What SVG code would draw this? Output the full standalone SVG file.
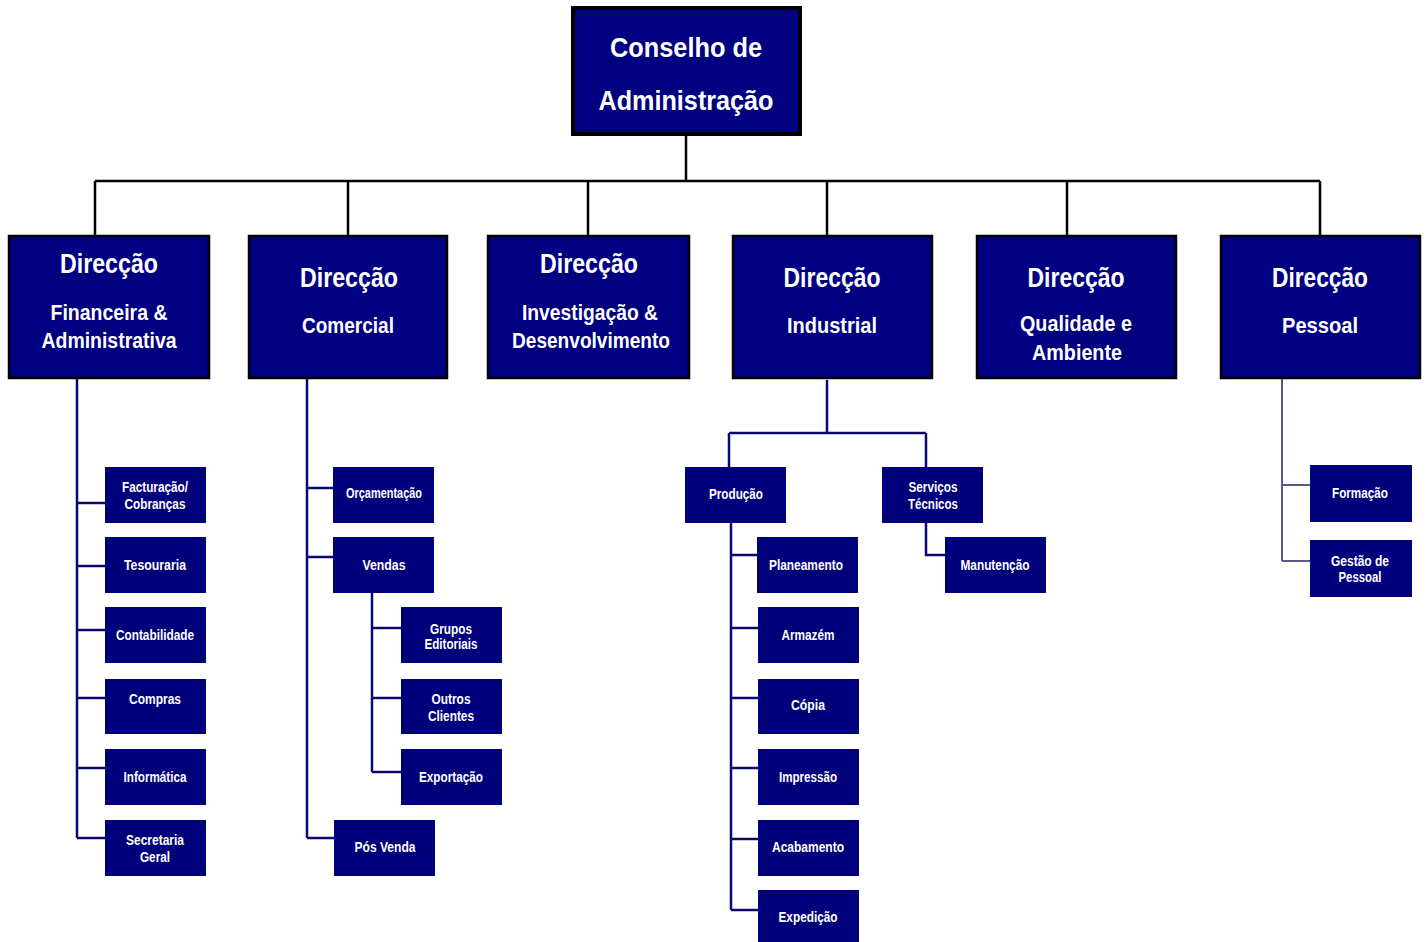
<svg xmlns="http://www.w3.org/2000/svg" width="1426" height="942" viewBox="0 0 1426 942">
<style>
.top{fill:#000080;stroke:#000;stroke-width:4}
.dir{fill:#000080;stroke:#000;stroke-width:2.5}
.sub{fill:#00007a}
.t{font-family:"Liberation Sans Narrow","Liberation Sans",Arial,sans-serif;font-weight:bold;fill:#fff;text-anchor:middle}
.big{font-size:28px}
.mid{font-size:22px}
.sm{font-size:14px}
.blk{stroke:#000;stroke-width:2.5;fill:none}
.nav{stroke:#0a0a6e;stroke-width:2.5;fill:none}
.gry{stroke:#5a5a8a;stroke-width:2;fill:none}
</style>
<rect width="1426" height="942" fill="#fff"/>
<g id="connectors">
<path class="blk" d="M686 136V181M95 181H1320M95 181V235M348 181V235M588 181V235M827 181V235M1067 181V235M1320 181V235"/>
<path class="nav" d="M77 378V838M77 503H105M77 566H105M77 630H105M77 698H105M77 768H105M77 838H105"/>
<path class="nav" d="M307 378V838M307 488H333M307 557H333M307 838H334M372 593V772M372 628H401M372 698H401M372 772H401"/>
<path class="nav" d="M827 380V433M729 433H926M729 433V467M926 433V467M926 523V555H945M731 523V910M731 555H757M731 628H758M731 698H758M731 768H758M731 839H758M731 910H758"/>
<path class="gry" d="M1282 378V561M1282 485H1310M1282 561H1310"/>
</g>
<g id="conselho">
<rect class="top" x="573" y="8" width="227" height="126"/>
<text class="t big" x="686" y="57" textLength="152" lengthAdjust="spacingAndGlyphs">Conselho de</text>
<text class="t big" x="686" y="110" textLength="175" lengthAdjust="spacingAndGlyphs">Administração</text>
</g>
<g id="dir-financeira">
<rect class="dir" x="9" y="236" width="200" height="142"/>
<text class="t big" x="109" y="273" textLength="98" lengthAdjust="spacingAndGlyphs">Direcção</text>
<text class="t mid" x="109" y="320" textLength="117" lengthAdjust="spacingAndGlyphs">Financeira &amp;</text>
<text class="t mid" x="109" y="348" textLength="135" lengthAdjust="spacingAndGlyphs">Administrativa</text>
</g>
<g id="dir-comercial">
<rect class="dir" x="249" y="236" width="198" height="142"/>
<text class="t big" x="349" y="287" textLength="98" lengthAdjust="spacingAndGlyphs">Direcção</text>
<text class="t mid" x="348" y="333" textLength="92" lengthAdjust="spacingAndGlyphs">Comercial</text>
</g>
<g id="dir-id">
<rect class="dir" x="488" y="236" width="201" height="142"/>
<text class="t big" x="589" y="273" textLength="98" lengthAdjust="spacingAndGlyphs">Direcção</text>
<text class="t mid" x="590" y="320" textLength="136" lengthAdjust="spacingAndGlyphs">Investigação &amp;</text>
<text class="t mid" x="591" y="348" textLength="158" lengthAdjust="spacingAndGlyphs">Desenvolvimento</text>
</g>
<g id="dir-industrial">
<rect class="dir" x="733" y="236" width="199" height="142"/>
<text class="t big" x="832" y="287" textLength="97" lengthAdjust="spacingAndGlyphs">Direcção</text>
<text class="t mid" x="832" y="333" textLength="90" lengthAdjust="spacingAndGlyphs">Industrial</text>
</g>
<g id="dir-qualidade">
<rect class="dir" x="977" y="236" width="199" height="142"/>
<text class="t big" x="1076" y="287" textLength="97" lengthAdjust="spacingAndGlyphs">Direcção</text>
<text class="t mid" x="1076" y="331" textLength="112" lengthAdjust="spacingAndGlyphs">Qualidade e</text>
<text class="t mid" x="1077" y="360" textLength="90" lengthAdjust="spacingAndGlyphs">Ambiente</text>
</g>
<g id="dir-pessoal">
<rect class="dir" x="1221" y="236" width="199" height="142"/>
<text class="t big" x="1320" y="287" textLength="96" lengthAdjust="spacingAndGlyphs">Direcção</text>
<text class="t mid" x="1320" y="333" textLength="76" lengthAdjust="spacingAndGlyphs">Pessoal</text>
</g>
<g id="facturacao"><rect class="sub" x="105" y="467" width="101" height="56"/>
<text class="t sm" x="155" y="492" textLength="66" lengthAdjust="spacingAndGlyphs">Facturação/</text>
<text class="t sm" x="155" y="509" textLength="61" lengthAdjust="spacingAndGlyphs">Cobranças</text></g>
<g id="tesouraria"><rect class="sub" x="105" y="537" width="101" height="56"/>
<text class="t sm" x="155" y="570" textLength="62" lengthAdjust="spacingAndGlyphs">Tesouraria</text></g>
<g id="contabilidade"><rect class="sub" x="105" y="607" width="101" height="56"/>
<text class="t sm" x="155" y="640" textLength="78" lengthAdjust="spacingAndGlyphs">Contabilidade</text></g>
<g id="compras"><rect class="sub" x="105" y="679" width="101" height="55"/>
<text class="t sm" x="155" y="704" textLength="52" lengthAdjust="spacingAndGlyphs">Compras</text></g>
<g id="informatica"><rect class="sub" x="105" y="749" width="101" height="56"/>
<text class="t sm" x="155" y="782" textLength="63" lengthAdjust="spacingAndGlyphs">Informática</text></g>
<g id="secretaria"><rect class="sub" x="105" y="820" width="101" height="56"/>
<text class="t sm" x="155" y="845" textLength="58" lengthAdjust="spacingAndGlyphs">Secretaria</text>
<text class="t sm" x="155" y="862" textLength="30" lengthAdjust="spacingAndGlyphs">Geral</text></g>
<g id="orcamentacao"><rect class="sub" x="333" y="467" width="101" height="56"/>
<text class="t sm" x="384" y="498" textLength="76" lengthAdjust="spacingAndGlyphs">Orçamentação</text></g>
<g id="vendas"><rect class="sub" x="333" y="537" width="101" height="56"/>
<text class="t sm" x="384" y="570" textLength="43" lengthAdjust="spacingAndGlyphs">Vendas</text></g>
<g id="grupos"><rect class="sub" x="401" y="607" width="101" height="56"/>
<text class="t sm" x="451" y="634" textLength="42" lengthAdjust="spacingAndGlyphs">Grupos</text>
<text class="t sm" x="451" y="649" textLength="53" lengthAdjust="spacingAndGlyphs">Editoriais</text></g>
<g id="outros"><rect class="sub" x="401" y="679" width="101" height="55"/>
<text class="t sm" x="451" y="704" textLength="39" lengthAdjust="spacingAndGlyphs">Outros</text>
<text class="t sm" x="451" y="721" textLength="46" lengthAdjust="spacingAndGlyphs">Clientes</text></g>
<g id="exportacao"><rect class="sub" x="401" y="749" width="101" height="56"/>
<text class="t sm" x="451" y="782" textLength="64" lengthAdjust="spacingAndGlyphs">Exportação</text></g>
<g id="posvenda"><rect class="sub" x="334" y="820" width="101" height="56"/>
<text class="t sm" x="385" y="852" textLength="61" lengthAdjust="spacingAndGlyphs">Pós Venda</text></g>
<g id="producao"><rect class="sub" x="685" y="467" width="101" height="56"/>
<text class="t sm" x="736" y="499" textLength="54" lengthAdjust="spacingAndGlyphs">Produção</text></g>
<g id="servicos"><rect class="sub" x="882" y="467" width="101" height="56"/>
<text class="t sm" x="933" y="492" textLength="49" lengthAdjust="spacingAndGlyphs">Serviços</text>
<text class="t sm" x="933" y="509" textLength="50" lengthAdjust="spacingAndGlyphs">Técnicos</text></g>
<g id="manutencao"><rect class="sub" x="945" y="537" width="101" height="56"/>
<text class="t sm" x="995" y="570" textLength="69" lengthAdjust="spacingAndGlyphs">Manutenção</text></g>
<g id="planeamento"><rect class="sub" x="757" y="537" width="101" height="56"/>
<text class="t sm" x="806" y="570" textLength="74" lengthAdjust="spacingAndGlyphs">Planeamento</text></g>
<g id="armazem"><rect class="sub" x="758" y="607" width="101" height="56"/>
<text class="t sm" x="808" y="640" textLength="53" lengthAdjust="spacingAndGlyphs">Armazém</text></g>
<g id="copia"><rect class="sub" x="758" y="679" width="101" height="55"/>
<text class="t sm" x="808" y="710" textLength="34" lengthAdjust="spacingAndGlyphs">Cópia</text></g>
<g id="impressao"><rect class="sub" x="758" y="749" width="101" height="56"/>
<text class="t sm" x="808" y="782" textLength="58" lengthAdjust="spacingAndGlyphs">Impressão</text></g>
<g id="acabamento"><rect class="sub" x="758" y="820" width="101" height="56"/>
<text class="t sm" x="808" y="852" textLength="72" lengthAdjust="spacingAndGlyphs">Acabamento</text></g>
<g id="expedicao"><rect class="sub" x="758" y="890" width="101" height="56"/>
<text class="t sm" x="808" y="922" textLength="59" lengthAdjust="spacingAndGlyphs">Expedição</text></g>
<g id="formacao"><rect class="sub" x="1310" y="465" width="102" height="57"/>
<text class="t sm" x="1360" y="498" textLength="56" lengthAdjust="spacingAndGlyphs">Formação</text></g>
<g id="gestao"><rect class="sub" x="1310" y="540" width="102" height="57"/>
<text class="t sm" x="1360" y="566" textLength="58" lengthAdjust="spacingAndGlyphs">Gestão de</text>
<text class="t sm" x="1360" y="582" textLength="43" lengthAdjust="spacingAndGlyphs">Pessoal</text></g>
</svg>
